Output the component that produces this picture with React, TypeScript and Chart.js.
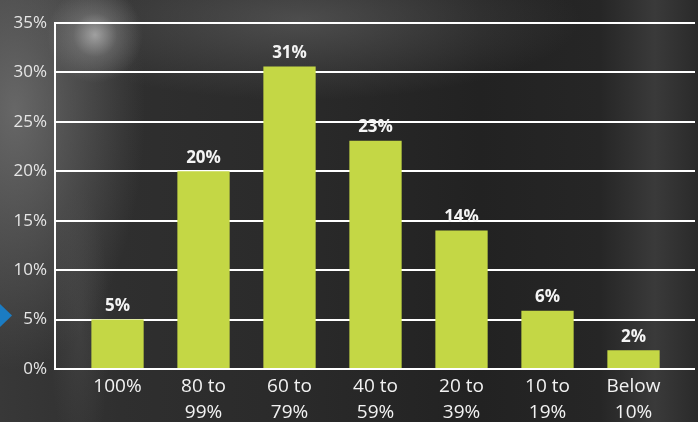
import React, { useEffect, useRef } from "react";
import { Chart, registerables } from "chart.js";

Chart.register(...registerables);

const categoryLabels: string[][] = [
  ["100%"],
  ["80 to", "99%"],
  ["60 to", "79%"],
  ["40 to", "59%"],
  ["20 to", "39%"],
  ["10 to", "19%"],
  ["Below", "10%"],
];
const shareValues: number[] = [5, 20, 30.6, 23.1, 14, 5.9, 1.9];
const valueLabels: string[] = ["5%", "20%", "31%", "23%", "14%", "6%", "2%"];
const yTickValues: number[] = [0, 5, 10, 15, 20, 25, 30, 35];

const FONT = "'Open Sans', 'Noto Sans', sans-serif";

const barLabelPlugin = {
  id: "barLabels",
  afterDatasetsDraw(chart: any) {
    const meta = chart.getDatasetMeta(0);
    const ctx = chart.ctx;
    ctx.save();
    ctx.fillStyle = "#f4f4f4";
    ctx.font = `bold 17px ${FONT}`;
    ctx.textAlign = "center";
    ctx.textBaseline = "bottom";
    meta.data.forEach((bar: any, i: number) => {
      ctx.fillText(valueLabels[i], bar.x, bar.y - 5);
    });
    ctx.restore();
  },
};

export default function App() {
  const ref = useRef<HTMLCanvasElement>(null);
  useEffect(() => {
    if (!ref.current) return;
    const chart = new Chart(ref.current, {
      type: "bar",
      data: {
        datasets: [
          {
            data: shareValues.map((v, i) => ({ x: i, y: v })) as any,
            backgroundColor: "#c4d745",
            borderWidth: 0,
            barPercentage: 0.76,
            categoryPercentage: 0.8,
          },
        ],
      },
      plugins: [barLabelPlugin],
      options: {
        animation: false,
        responsive: true,
        maintainAspectRatio: false,
        layout: { padding: { top: 23, right: 3, bottom: 0, left: 0 } },
        plugins: { legend: { display: false }, tooltip: { enabled: false } },
        scales: {
          x: {
            type: "linear",
            offset: false,
            min: -0.727,
            max: 6.715,
            bounds: "data",
            grid: { display: false, drawTicks: false, offset: false },
            border: { display: false },
            afterBuildTicks: (scale: any) => {
              scale.ticks = categoryLabels.map((_, i) => ({ value: i }));
            },
            afterFit: (scale: any) => {
              scale.height = 53;
            },
            ticks: {
              autoSkip: false,
              maxRotation: 0,
              padding: 5,
              color: "#f2f2f2",
              font: { family: FONT, size: 19, lineHeight: 1.35 },
              callback: (v: any) => categoryLabels[Math.round(Number(v))] ?? "",
            },
          },
          y: {
            min: 0,
            max: 35,
            afterBuildTicks: (scale: any) => {
              scale.ticks = yTickValues.map((v) => ({ value: v }));
            },
            afterFit: (scale: any) => {
              scale.width = 55;
            },
            grid: { color: "#ffffff", lineWidth: 2, drawTicks: false },
            border: { display: true, color: "#ffffff", width: 2 },
            ticks: {
              padding: 8,
              color: "#e6e6e6",
              font: { family: FONT, size: 17 },
              callback: (v: any) => `${v}%`,
            },
          },
        },
      },
    });
    return () => chart.destroy();
  }, []);

  const bg = [
    "radial-gradient(circle at 95px 35px, rgba(190,190,190,0.75) 0px, rgba(150,150,150,0.35) 22px, rgba(0,0,0,0) 48px)",
    "radial-gradient(ellipse 130px 260px at 15px 110px, rgba(115,115,115,0.8), rgba(0,0,0,0))",
    "radial-gradient(ellipse 280px 80px at 300px 20px, rgba(100,100,100,0.6), rgba(0,0,0,0))",
    "radial-gradient(ellipse 30px 140px at 80px 330px, rgba(80,80,80,0.45), rgba(0,0,0,0))",
    "linear-gradient(to right, #383838 0px, #2f2f2f 120px, #2a2a2a 300px, #222222 480px, #262626 600px, #3a3a3a 655px, #2a2a2a 698px)",
  ].join(",");

  return (
    <div
      style={{
        position: "absolute",
        left: 0,
        top: 0,
        width: 698,
        height: 422,
        background: bg,
        overflow: "hidden",
      }}
    >
      <div
        style={{
          position: "absolute",
          left: 0,
          top: 304,
          width: 12,
          height: 23,
          background: "#1b7cc3",
          clipPath: "polygon(0 0, 100% 50%, 0 100%)",
        }}
      />
      <canvas ref={ref} style={{ position: "absolute", left: 0, top: 0 }} />
    </div>
  );
}
